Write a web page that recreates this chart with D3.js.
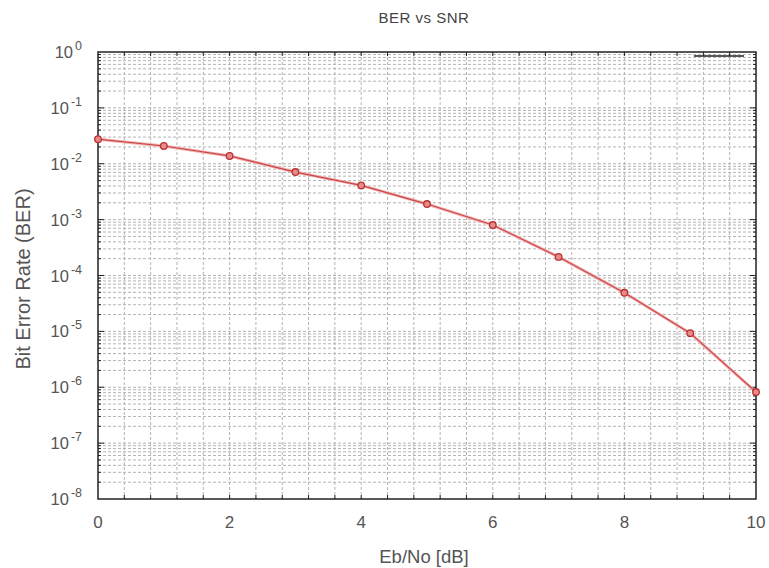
<!DOCTYPE html>
<html><head><meta charset="utf-8">
<script src="https://cdn.jsdelivr.net/npm/d3@7"></script>
<style>
body{margin:0;background:#fff;}
svg{display:block;font-family:"Liberation Sans",Arial,sans-serif;}
</style></head>
<body><svg id="c" width="769" height="568"></svg>
<script>
const snr = [0,1,2,3,4,5,6,7,8,9,10];
const ber = [0.0275,0.0208,0.0138,0.0071,0.0041,0.0019,0.00080,0.000215,0.000049,0.0000093,0.00000082];
const xTickLabels = [0,2,4,6,8,10];
const yExponents = [0,-1,-2,-3,-4,-5,-6,-7,-8];
const title = "BER vs SNR";
const xTitle = "Eb/No [dB]";
const yTitle = "Bit Error Rate (BER)";

const svg = d3.select("#c");
const L=98,R=756,T=52,B=499;
const x = d3.scaleLinear().domain([0,10]).range([L,R]);
const y = d3.scaleLog().domain([1e-8,1]).range([B,T]);

// grid
const g = svg.append("g");
const xGrid = d3.range(1,25).map(i=>i*0.4);
g.selectAll(".vg").data(xGrid).join("line")
  .attr("x1",d=>x(d)).attr("x2",d=>x(d)).attr("y1",T).attr("y2",B)
  .attr("stroke","#b4b4b4").attr("stroke-width",1).attr("stroke-dasharray","3,2");
const yGrid=[];
for(let e=-8;e<0;e++){for(let m=1;m<10;m++){const v=m*Math.pow(10,e); if(!(e===-8&&m===1)) yGrid.push(v);}}
g.selectAll(".hg").data(yGrid).join("line")
  .attr("x1",L).attr("x2",R).attr("y1",d=>y(d)).attr("y2",d=>y(d))
  .attr("stroke","#b4b4b4").attr("stroke-width",1).attr("stroke-dasharray","3,2");

// ticks (inward)
const tk = svg.append("g").attr("stroke","#222").attr("stroke-width",1);
xGrid.forEach(d=>{
  tk.append("line").attr("x1",x(d)).attr("x2",x(d)).attr("y1",B).attr("y2",B-4);
  tk.append("line").attr("x1",x(d)).attr("x2",x(d)).attr("y1",T).attr("y2",T+4);
});
yGrid.forEach(d=>{
  const major = Math.abs(Math.log10(d)-Math.round(Math.log10(d)))<1e-9;
  const len = major?6:3;
  tk.append("line").attr("x1",L).attr("x2",L+len).attr("y1",y(d)).attr("y2",y(d));
  tk.append("line").attr("x1",R).attr("x2",R-len).attr("y1",y(d)).attr("y2",y(d));
});

// frame
svg.append("rect").attr("x",L).attr("y",T).attr("width",R-L).attr("height",B-T)
  .attr("fill","none").attr("stroke","#222").attr("stroke-width",1.5);

// y tick labels
const yl = svg.append("g").attr("fill","#555");
yExponents.forEach(e=>{
  const t = yl.append("text").attr("x",82).attr("y",y(Math.pow(10,e))+6)
    .attr("text-anchor","end").attr("font-size",16.5);
  t.append("tspan").text("10");
  t.append("tspan").attr("dx",2).attr("dy",-8).attr("font-size",12.5).text(e===0?"0":"-"+(-e));
});
// x tick labels
svg.append("g").selectAll("text").data(xTickLabels).join("text")
  .attr("x",d=>x(d)).attr("y",528).attr("text-anchor","middle")
  .attr("font-size",17).attr("fill","#555").text(d=>d);

// titles
svg.append("text").attr("x",424).attr("y",23).attr("text-anchor","middle")
  .attr("font-size",15).attr("letter-spacing",0.5).attr("fill","#444").text(title);
svg.append("text").attr("x",424).attr("y",563).attr("text-anchor","middle")
  .attr("font-size",18.5).attr("fill","#555").text(xTitle);
svg.append("text").attr("transform","translate(30,279) rotate(-90)").attr("text-anchor","middle")
  .attr("font-size",20).attr("fill","#555").text(yTitle);

// legend line
svg.append("line").attr("x1",694).attr("x2",744).attr("y1",56).attr("y2",56)
  .attr("stroke","#222").attr("stroke-width",1.5);

// series
const pts = snr.map((s,i)=>[s,ber[i]]);
const line = d3.line().x(d=>x(d[0])).y(d=>y(d[1]));
svg.append("path").datum(pts).attr("d",line).attr("fill","none")
  .attr("stroke","#f3b0b0").attr("stroke-width",3);
svg.append("path").datum(pts).attr("d",line).attr("fill","none")
  .attr("stroke","#c84848").attr("stroke-width",1.2);
svg.selectAll(".pt").data(pts).join("circle")
  .attr("cx",d=>x(d[0])).attr("cy",d=>y(d[1])).attr("r",3.3)
  .attr("fill","#e88a8a").attr("stroke","#b83030").attr("stroke-width",1.3);
</script></body></html>
